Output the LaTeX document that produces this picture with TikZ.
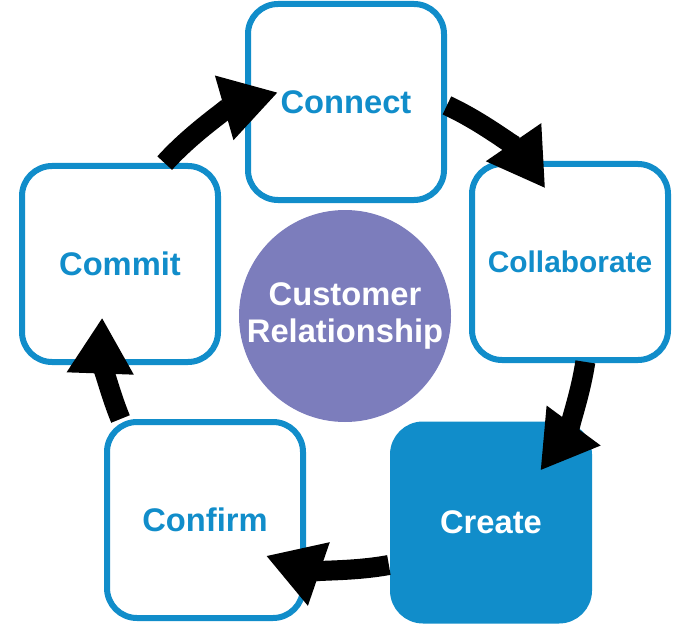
\documentclass[tikz,border=0pt]{standalone}
\usepackage{fontspec}
\setmainfont{Liberation Sans}
\usetikzlibrary{positioning, arrows.meta, calc}
\definecolor{crmblue}{HTML}{118DCA}
\definecolor{crmpurple}{HTML}{7C7DBC}

\begin{document}
\begin{tikzpicture}[
    stagebox/.style={draw=crmblue, line width=0.12cm, fill=white, rounded corners=0.6cm,
      minimum size=3.92cm, inner sep=0pt, text=crmblue,
      font=\bfseries\fontsize{18.6}{22}\selectfont},
    activebox/.style={stagebox, fill=crmblue, text=white},
    hubcircle/.style={circle, fill=crmpurple, minimum size=4.24cm, inner sep=0pt,
      text=white, align=center, font=\bfseries\fontsize{18.6}{21.5}\selectfont},
    cyclearrow/.style={line width=0.4cm, -{Triangle[length=1.12cm, width=1.26cm]}}
  ]
        \useasboundingbox (0,0) rectangle (13.66,12.52);
        \coordinate (hub) at (6.90,6.00);
        \node[hubcircle] (crm) at (6.90,6.20) {Customer\\Relationship};
        \node[stagebox] (connect) at (6.92,10.48) {Connect};
        \node[stagebox, font=\bfseries\fontsize{17}{20}\selectfont] (collab) at (11.40,7.28) {Collaborate};
        \node[activebox] (create) at (9.82,2.07) {Create};
        \node[stagebox] (confirm) at (4.10,2.12) {Confirm};
        \node[stagebox] (commit) at (2.40,7.24) {Commit};
        % arrows round the cycle
        \draw[cyclearrow] (hub) ++(137.9:4.86) arc[start angle=137.9, end angle=106, radius=4.86];
        \draw[cyclearrow] (hub) ++(65.2:4.86) arc[start angle=65.2, end angle=34.5, radius=4.86];
        \draw[cyclearrow] (hub) ++(-8.5:4.86) arc[start angle=-8.5, end angle=-36.5, radius=4.86];
        \draw[cyclearrow] (hub) ++(-79.6:4.86) arc[start angle=-79.6, end angle=-109, radius=4.86];
        \draw[cyclearrow] (hub) ++(202.5:4.86) arc[start angle=202.5, end angle=178, radius=4.86];
      \end{tikzpicture}
\end{document}
